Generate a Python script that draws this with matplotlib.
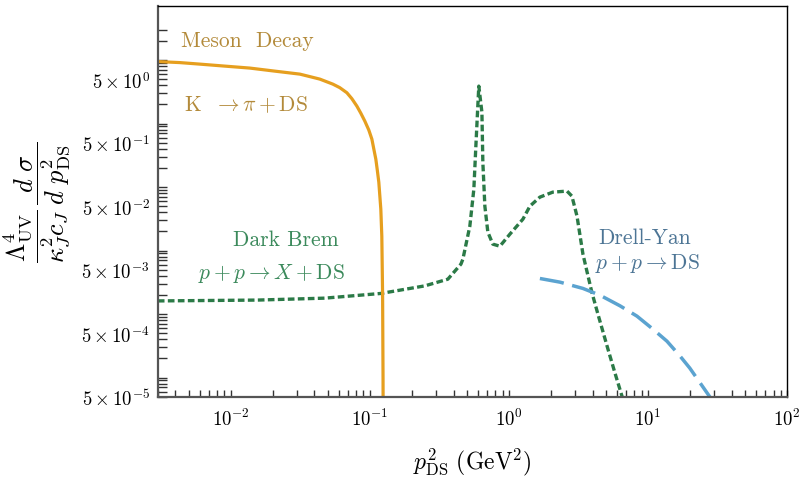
import numpy as np
import matplotlib
matplotlib.use("Agg")
import matplotlib.pyplot as plt
from matplotlib.ticker import FixedLocator, NullFormatter, LogLocator

plt.rcParams.update({
    "font.family": "cmr10",
    "mathtext.fontset": "cm",
    "axes.formatter.use_mathtext": True,
    "axes.unicode_minus": False,
})

# ── Spectra (p^2_DS in GeV^2) ─────────────────────────────────────────────────
# K -> pi + DS, ends at (m_K - m_pi)^2
meson_s = [0.00299, 0.00430, 0.00599, 0.00906, 0.0137, 0.0207, 0.0314, 0.0371,
           0.0437, 0.0542, 0.0608, 0.0684, 0.0743, 0.0807, 0.0861, 0.0921,
           0.0984, 0.1035, 0.1069, 0.1105, 0.1132, 0.1161, 0.1200, 0.1220,
           0.1236, 0.1245, 0.1252]
meson_rate = [9.44, 9.10, 8.61, 8.01, 7.46, 6.68, 5.99, 5.47,
              5.00, 4.17, 3.67, 3.05, 2.46, 1.88, 1.458, 1.09,
              0.787, 0.567, 0.395, 0.274, 0.1845, 0.119, 0.0448, 0.0168,
              2.0e-3, 1.0e-4, 1.0e-6]

# p + p -> X + DS (dark bremsstrahlung, rho/omega peak)
brem_s = [0.00299, 0.0156, 0.0474, 0.120, 0.249, 0.364, 0.452, 0.467, 0.524,
          0.560, 0.579, 0.598, 0.608, 0.640, 0.650, 0.672, 0.706, 0.767, 0.862,
          1.017, 1.262, 1.417, 1.671, 2.07, 2.62, 2.84, 3.09, 3.41, 3.64, 3.95,
          4.37, 5.16, 5.80, 6.51, 7.18]
brem_rate = [1.61e-3, 1.66e-3, 1.78e-3, 2.11e-3, 2.78e-3, 3.54e-3, 6.10e-3, 7.31e-3, 0.0242,
             0.0926, 0.441, 1.88, 3.88, 1.50, 0.245, 0.050, 0.0195, 0.0126, 0.0117,
             0.0181, 0.0312, 0.050, 0.0693, 0.0831, 0.0862, 0.0719, 0.0348, 8.77e-3, 4.73e-3, 2.21e-3,
             9.96e-4, 2.80e-4, 1.17e-4, 5.09e-5, 2.0e-5]

# p + p -> DS (Drell-Yan)
dy_s = [1.672, 2.33, 3.41, 4.52, 6.29, 8.34, 10.87, 13.7, 16.96, 20.0, 23.6, 27.9, 30.0]
dy_rate = [3.63e-3, 3.18e-3, 2.53e-3, 1.98e-3, 1.35e-3, 9.27e-4, 5.78e-4, 3.74e-4,
           2.20e-4, 1.41e-4, 8.38e-5, 4.95e-5, 3.5e-5]

ytick_vals = [5e-5, 5e-4, 5e-3, 5e-2, 5e-1, 5e0]
ytick_labels = [r"$5\times10^{-5}$", r"$5\times10^{-4}$", r"$5\times10^{-3}$",
                r"$5\times10^{-2}$", r"$5\times10^{-1}$", r"$5\times10^{0}$"]

C_ORANGE = "#E69F1F"
C_GREEN = "#2B7A47"
C_BLUE = "#5BA3D0"
T_ORANGE = "#B38A3A"
T_GREEN = "#3C8A5C"
T_BLUE = "#4D7595"
AX_GRAY = "#555555"

fig = plt.figure(figsize=(8.01, 4.81), dpi=100)
ax = fig.add_axes([0.1973, 0.1732, 0.7852, 0.8116])

ax.plot(brem_s, brem_rate, color=C_GREEN, lw=2.4, dashes=(2, 1), dash_capstyle="butt")
ax.plot(dy_s, dy_rate, color=C_BLUE, lw=2.5, dashes=(7, 2.5))
ax.plot(meson_s, meson_rate, color=C_ORANGE, lw=2.3, solid_capstyle="butt")

ax.set_xscale("log")
ax.set_yscale("log")
ax.set_xlim(3e-3, 1e2)
ax.set_ylim(5e-5, 70)

# y ticks only labelled at 5 x 10^n, plain minor ticks elsewhere
ax.yaxis.set_major_locator(FixedLocator(ytick_vals))
ax.set_yticklabels(ytick_labels)
minor_y = [k * 10.0 ** n for n in range(-5, 2) for k in range(1, 10)
           if 5e-5 < k * 10.0 ** n <= 30 and k != 5]
ax.yaxis.set_minor_locator(FixedLocator(minor_y))
ax.yaxis.set_minor_formatter(NullFormatter())

ax.xaxis.set_major_locator(LogLocator(base=10, numticks=10))
ax.xaxis.set_minor_locator(LogLocator(base=10, subs=np.arange(2, 10), numticks=10))
ax.xaxis.set_minor_formatter(NullFormatter())

ax.tick_params(axis="both", which="both", direction="in", length=5, width=1,
               color="#333333", labelsize=13.5, top=False, right=False)
ax.tick_params(axis="y", which="both", length=6.5)
ax.tick_params(axis="x", which="major", pad=8)
ax.tick_params(axis="y", which="major", pad=6)

for side in ["left", "bottom"]:
    ax.spines[side].set_color(AX_GRAY)
    ax.spines[side].set_linewidth(1.6)
for side in ["top", "right"]:
    ax.spines[side].set_color("black")
    ax.spines[side].set_linewidth(1.0)

ax.set_xlabel(r"$p^2_{\rm DS}\ (\mathrm{GeV}^2)$", fontsize=17, labelpad=12)
ax.set_ylabel(r"$\dfrac{\Lambda^4_{\rm UV}}{\kappa^2_J c_J}\,\dfrac{d\ \sigma}{d\ p^2_{\rm DS}}$",
              fontsize=19, labelpad=6)

# process labels
ax.text(0.1415, 0.914, "Meson  Decay", color=T_ORANGE, fontsize=15.5,
        ha="center", va="center", transform=ax.transAxes)
ax.text(0.140, 0.750, r"$\mathrm{K}\ \ \rightarrow \pi + \mathrm{DS}$", color=T_ORANGE, fontsize=15.5,
        ha="center", va="center", transform=ax.transAxes)
ax.text(0.2035, 0.403, "Dark Brem", color=T_GREEN, fontsize=15.5,
        ha="center", va="center", transform=ax.transAxes)
ax.text(0.181, 0.319, r"$p + p \rightarrow X + \mathrm{DS}$", color=T_GREEN, fontsize=15.5,
        ha="center", va="center", transform=ax.transAxes)
ax.text(0.7735, 0.409, "Drell-Yan", color=T_BLUE, fontsize=15.5,
        ha="center", va="center", transform=ax.transAxes)
ax.text(0.778, 0.345, r"$p + p \rightarrow \mathrm{DS}$", color=T_BLUE, fontsize=15.5,
        ha="center", va="center", transform=ax.transAxes)

fig.savefig("out.png", dpi=100)
